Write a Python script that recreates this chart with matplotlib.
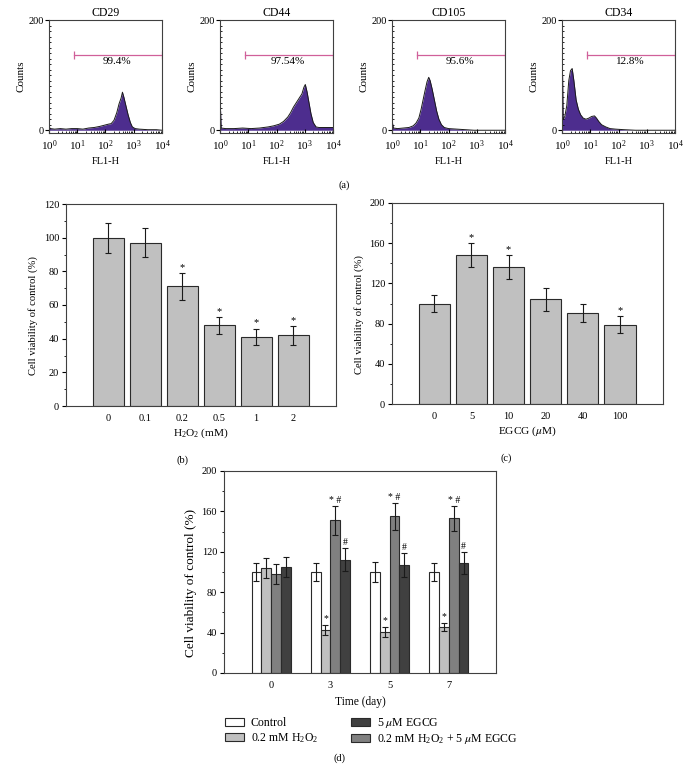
import numpy as np
import matplotlib
matplotlib.use('Agg')
import matplotlib.pyplot as plt
from matplotlib.patches import Patch
from matplotlib.ticker import MultipleLocator, LogLocator, NullFormatter

plt.rcParams['font.family'] = ['Liberation Serif', 'DejaVu Serif']
plt.rcParams['mathtext.fontset'] = 'stix'
plt.rcParams['font.size'] = 7.5

W, H = 688, 771

# ---- panel (a): flow cytometry histograms (x in log10 units)
markers = ['CD29', 'CD44', 'CD105', 'CD34']
gate_pct = ['99.4%', '97.54%', '95.6%', '12.8%']
cd29_x = [0, 0.05, 0.2, 0.4, 0.6, 0.8, 1.0, 1.2, 1.4, 1.6, 1.8, 1.95, 2.1, 2.2, 2.3, 2.4, 2.48, 2.55, 2.6, 2.65, 2.72, 2.8, 2.88, 2.95, 3.05, 3.2, 3.5, 3.8, 4.0]
cd29_y = [6, 3, 2, 3, 2, 3, 3, 2, 4, 5, 7, 9, 11, 12, 18, 32, 48, 58, 69, 60, 45, 28, 14, 6, 3, 2, 1, 1, 0]
cd44_x = [0, 0.02, 0.04, 0.2, 0.5, 0.8, 1.1, 1.4, 1.7, 1.9, 2.1, 2.25, 2.4, 2.5, 2.6, 2.7, 2.8, 2.9, 2.97, 3.02, 3.08, 3.15, 3.22, 3.3, 3.4, 3.5, 3.7, 3.9, 4.0]
cd44_y = [35, 35, 4, 3, 3, 4, 3, 4, 6, 8, 11, 16, 24, 32, 42, 50, 58, 66, 78, 83, 70, 50, 30, 14, 6, 5, 5, 5, 5]
cd105_x = [0, 0.02, 0.05, 0.2, 0.4, 0.6, 0.75, 0.85, 0.95, 1.03, 1.1, 1.17, 1.24, 1.3, 1.35, 1.42, 1.5, 1.58, 1.66, 1.75, 1.85, 2.0, 2.3, 2.6, 2.9, 4.0]
cd105_y = [25, 12, 4, 3, 4, 5, 8, 13, 22, 38, 55, 72, 88, 96, 90, 75, 55, 35, 20, 10, 5, 3, 2, 1, 0, 0]
cd34_x = [0, 0.02, 0.04, 0.1, 0.17, 0.24, 0.3, 0.36, 0.42, 0.5, 0.58, 0.66, 0.75, 0.85, 0.95, 1.05, 1.15, 1.22, 1.3, 1.4, 1.55, 1.7, 1.9, 2.2, 2.6, 4.0]
cd34_y = [100, 100, 20, 25, 45, 90, 108, 112, 90, 55, 38, 28, 22, 20, 22, 25, 26, 22, 16, 10, 6, 3, 2, 1, 0, 0]
hist_x = [cd29_x, cd44_x, cd105_x, cd34_x]
hist_y = [cd29_y, cd44_y, cd105_y, cd34_y]

# ---- panel (b): H2O2 dose
h2o2_dose = ['0', '0.1', '0.2', '0.5', '1', '2']
h2o2_mean = [100, 97, 71, 48, 41, 42]
h2o2_err = [9, 8.5, 8, 5, 5, 5.5]
h2o2_sig = ['', '', '*', '*', '*', '*']

# ---- panel (c): EGCG dose
egcg_dose = ['0', '5', '10', '20', '40', '100']
egcg_mean = [100, 148, 136, 104, 91, 79]
egcg_err = [8, 12, 12, 11.5, 9, 8.5]
egcg_sig = ['', '*', '*', '', '', '*']

# ---- panel (d): time course
days = ['0', '3', '5', '7']
ctrl_mean = [100, 100, 100, 100]
ctrl_err = [9, 9, 10, 9]
h2o2_t_mean = [104, 43, 41, 46]
h2o2_t_err = [9.5, 5, 5, 4]
combo_mean = [98, 151, 155, 153]
combo_err = [9.5, 14, 13, 12.5]
egcg_t_mean = [105, 112, 107, 109]
egcg_t_err = [10, 11.5, 11.5, 11]
h2o2_t_sig = ['', '*', '*', '*']
combo_sig = ['', '* #', '* #', '* #']
egcg_t_sig = ['', '#', '#', '#']

fig = plt.figure(figsize=(W / 100, H / 100), dpi=100)


def ax_px(l, t, r, b):
    return fig.add_axes([l / W, 1 - b / H, (r - l) / W, (b - t) / H])


spine_c = '#404040'

# (a)
a_lefts = [49, 220, 392, 562]
for i in range(4):
    l = a_lefts[i]
    ax = ax_px(l, 20, l + 113, 133)
    xs = 10 ** np.array(hist_x[i])
    ax.fill_between(xs, hist_y[i], 0, color='#4d2d8e', lw=0)
    ax.plot(xs, hist_y[i], color='#1a1a1a', lw=0.7)
    ax.set_xscale('log')
    ax.set_xlim(1, 1e4)
    ax.set_ylim(-5, 200)
    ax.set_yticks([0, 200])
    ax.yaxis.set_minor_locator(MultipleLocator(10))
    ax.xaxis.set_major_locator(LogLocator(base=10, numticks=10))
    ax.xaxis.set_minor_locator(LogLocator(base=10, subs=np.arange(2, 10), numticks=10))
    ax.xaxis.set_minor_formatter(NullFormatter())
    ax.tick_params(axis='x', which='major', direction='in', length=3, pad=4, labelsize=8)
    ax.tick_params(axis='x', which='minor', direction='in', length=1.5)
    ax.tick_params(axis='y', which='major', direction='out', length=3, pad=1, labelsize=7.5)
    ax.tick_params(axis='y', which='minor', direction='in', length=1.5)
    for s in ax.spines.values():
        s.set_color(spine_c)
        s.set_linewidth(0.8)
    ax.plot([10 ** 0.88, 1e4], [136, 136], color='#d0609a', lw=0.9, marker='|', ms=6, mew=0.9)
    ax.text(10 ** 2.4, 124, gate_pct[i], ha='center', va='center', fontsize=8)
    ax.set_title(markers[i], fontsize=8.5, pad=3)
    ax.set_ylabel('Counts', labelpad=2, fontsize=8)
    ax.set_xlabel('FL1-H', labelpad=3, fontsize=7.5)
fig.text(344 / W, 1 - 185 / H, '(a)', ha='center', va='center', fontsize=7.5)


def bar_panel(ax, labels, means, errs, sigs, ymax, major, minor, xlabel):
    pos = np.arange(len(means))
    ax.bar(pos, means, width=0.84, color='#c0c0c0', edgecolor='#2a2a2a', lw=0.8, zorder=2)
    ax.errorbar(pos, means, yerr=errs, fmt='none', ecolor='#1a1a1a', elinewidth=0.8, capsize=2, capthick=0.8, zorder=3)
    for p, m, e, s in zip(pos, means, errs, sigs):
        if s:
            ax.text(p, m + e + ymax * 0.005, s, ha='center', va='bottom', fontsize=7.5)
    ax.set_xlim(-1.14, 6.16)
    ax.set_ylim(0, ymax)
    ax.set_xticks(pos)
    ax.set_xticklabels(labels)
    ax.yaxis.set_major_locator(MultipleLocator(major))
    ax.yaxis.set_minor_locator(MultipleLocator(minor))
    ax.tick_params(axis='x', length=0, pad=6)
    ax.tick_params(axis='y', which='major', direction='out', length=3, pad=2)
    ax.tick_params(axis='y', which='minor', direction='out', length=1.5)
    for s in ax.spines.values():
        s.set_color(spine_c)
        s.set_linewidth(0.8)
    ax.set_ylabel('Cell viability of control (%)', labelpad=4, fontsize=7.7)
    ax.yaxis.label.set_y(0.446)
    ax.set_xlabel(xlabel, labelpad=2, fontsize=8.2)


# (b)
axb = ax_px(66, 204, 336, 406)
bar_panel(axb, h2o2_dose, h2o2_mean, h2o2_err, h2o2_sig, 120, 20, 10,
          r'$\mathregular{H_2O_2}$ (mM)')
fig.text(182 / W, 1 - 460 / H, '(b)', ha='center', va='center', fontsize=7.5)

# (c)
axc = ax_px(392, 203, 663, 404)
bar_panel(axc, egcg_dose, egcg_mean, egcg_err, egcg_sig, 200, 40, 20,
          r'EGCG ($\mu$M)')
fig.text(506 / W, 1 - 458 / H, '(c)', ha='center', va='center', fontsize=7.5)

# (d)
axd = ax_px(224, 471, 496, 673)
pos = np.arange(len(days))
bw = 0.167
series = [
    (ctrl_mean, ctrl_err, ['', '', '', ''], 'white', 'Control'),
    (h2o2_t_mean, h2o2_t_err, h2o2_t_sig, '#c0c0c0', r'0.2 mM $\mathregular{H_2O_2}$'),
    (combo_mean, combo_err, combo_sig, '#808080', r'0.2 mM $\mathregular{H_2O_2}$ + 5 $\mu$M EGCG'),
    (egcg_t_mean, egcg_t_err, egcg_t_sig, '#404040', r'5 $\mu$M EGCG'),
]
handles = {}
for k, (m, e, sg, c, lab) in enumerate(series):
    xs = pos + (k - 1.5) * bw
    axd.bar(xs, m, width=bw, color=c, edgecolor='#2a2a2a', lw=0.8, zorder=2)
    axd.errorbar(xs, m, yerr=e, fmt='none', ecolor='#1a1a1a', elinewidth=0.8, capsize=2, capthick=0.8, zorder=3)
    for x, mv, ev, s in zip(xs, m, e, sg):
        if s:
            axd.text(x, mv + ev + 1, s, ha='center', va='bottom', fontsize=7)
    handles[lab] = Patch(facecolor=c, edgecolor='#2a2a2a', lw=0.8)
axd.set_xlim(-0.8, 3.8)
axd.set_ylim(0, 200)
axd.set_xticks(pos)
axd.set_xticklabels(days)
axd.yaxis.set_major_locator(MultipleLocator(40))
axd.yaxis.set_minor_locator(MultipleLocator(20))
axd.tick_params(axis='x', length=0, pad=6)
axd.tick_params(axis='y', which='major', direction='out', length=3, pad=2)
axd.tick_params(axis='y', which='minor', direction='out', length=1.5)
for s in axd.spines.values():
    s.set_color(spine_c)
    s.set_linewidth(0.8)
axd.set_ylabel('Cell viability of control (%)', labelpad=3, fontsize=9.5)
axd.yaxis.label.set_y(0.446)
axd.set_xlabel('Time (day)', labelpad=4, fontsize=8.3)

order = [series[0][4], series[1][4], series[3][4], series[2][4]]
fig.legend([handles[o] for o in order], order, ncol=2, frameon=False,
           loc='upper left', bbox_to_anchor=(225 / W, 1 - 716 / H),
           borderpad=0, borderaxespad=0,
           handlelength=1.6, handleheight=0.6, columnspacing=2.8,
           labelspacing=0.2, handletextpad=0.6, fontsize=8.5)
fig.text(340 / W, 1 - 758 / H, '(d)', ha='center', va='center', fontsize=7.5)

fig.savefig('out.png', dpi=100)
